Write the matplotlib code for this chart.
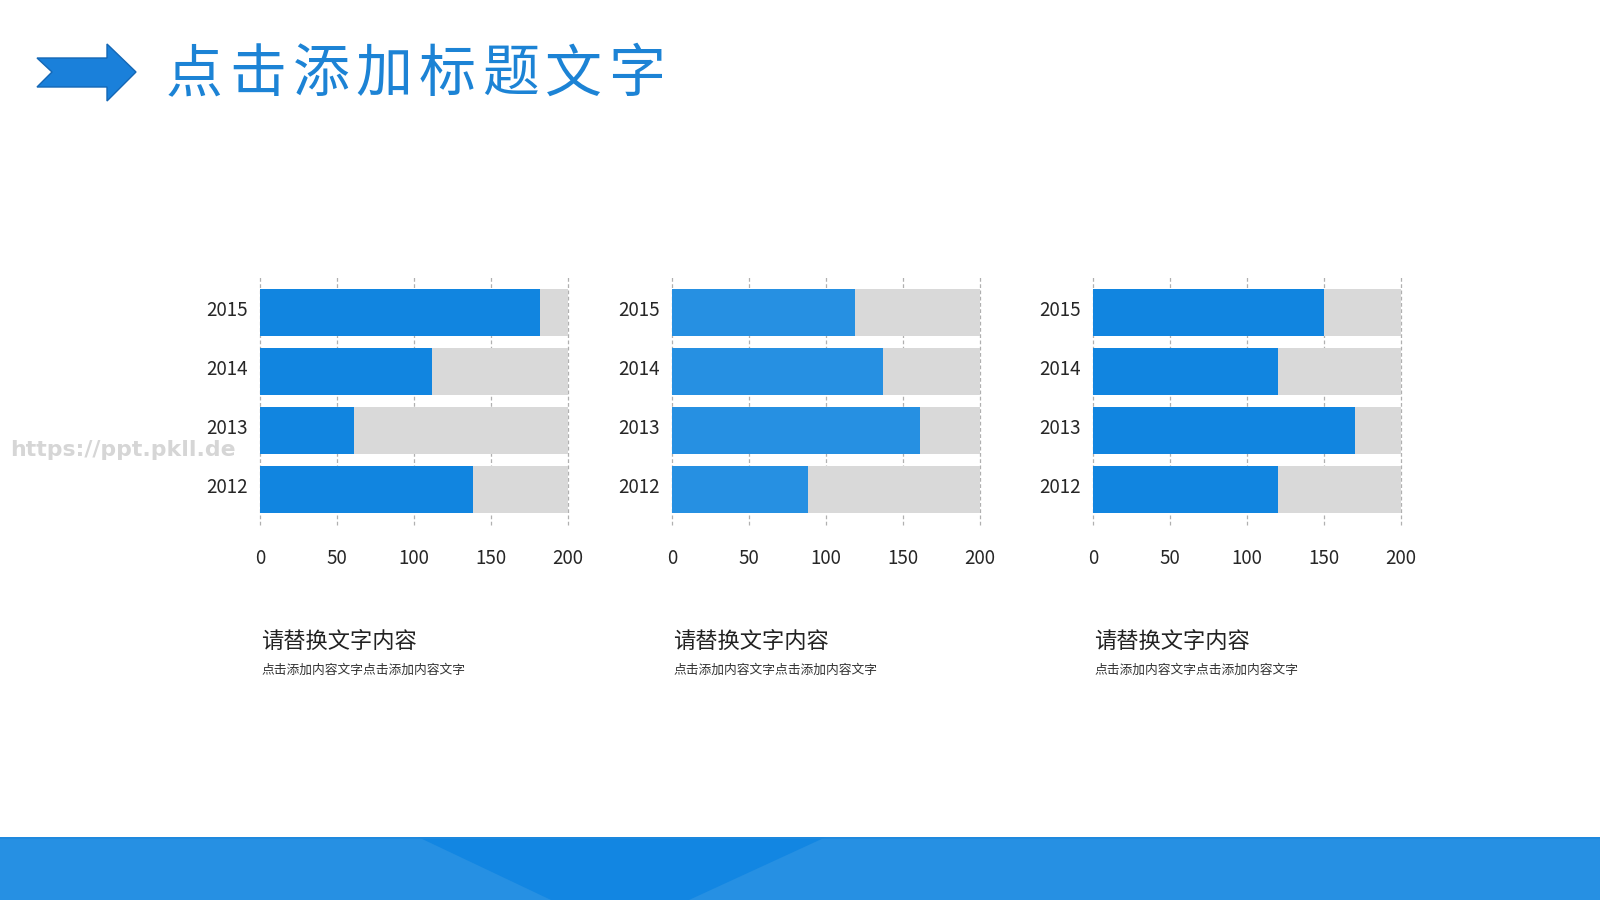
import matplotlib
matplotlib.use('Agg')
import matplotlib.pyplot as plt
import matplotlib.transforms as mtransforms
from matplotlib.patches import Polygon, Rectangle

plt.rcParams['font.family'] = ['Noto Sans CJK SC', 'DejaVu Sans']

years = ['2012', '2013', '2014', '2015']
chart1 = [138, 61, 112, 182]
chart2 = [88, 161, 137, 119]
chart3 = [120, 170, 120, 150]
max_val = 200
ticks = [0, 50, 100, 150, 200]

title = '点击添加标题文字'
caption_title = '请替换文字内容'
caption_text = '点击添加内容文字点击添加内容文字'
watermark = 'https://ppt.pkll.de'

W, H = 1600, 900
fig = plt.figure(figsize=(16, 9), dpi=100)
fig.patch.set_facecolor('white')

# background layer in pixel coords
bg = fig.add_axes([0, 0, 1, 1])
bg.set_xlim(0, W)
bg.set_ylim(H, 0)
bg.axis('off')

# arrow in the top left
arrow = [(37, 58), (107, 58), (107, 44), (136, 72), (107, 101), (107, 87), (37, 87), (52, 72)]
bg.add_patch(Polygon(arrow, closed=True, facecolor='#1A80DA', edgecolor='#1467B5', lw=1))

# title, with wide letter spacing
for i, ch in enumerate(title):
    bg.text(168 + 26.5 + i * 63.2, 75, ch, fontsize=41, color='#1C83D5',
            ha='center', va='center')

# bottom band
bg.add_patch(Rectangle((0, 837), W, 63, facecolor='#2690E3', edgecolor='none'))
bg.add_patch(Polygon([(418, 837), (826, 837), (689, 900), (551, 900)], closed=True,
                     facecolor='#1286E2', edgecolor='none'))
bg.plot([0, W], [837.5, 837.5], color='#1E88DD', lw=1.2)

# watermark
bg.text(10, 450, watermark, fontsize=15.8, color='#D6D6D6', fontweight='bold',
        family='DejaVu Sans', ha='left', va='center')

lefts = [260, 672, 1093]
blues = ['#1185E0', '#2690E2', '#1185E0']
series = [chart1, chart2, chart3]
top, bottom, width = 276, 525, 308

up = mtransforms.ScaledTranslation(0, 3.5 / 72, fig.dpi_scale_trans)
down = mtransforms.ScaledTranslation(0, -0.7 / 72, fig.dpi_scale_trans)

for left, vals, col in zip(lefts, series, blues):
    ax = fig.add_axes([left / W, (H - bottom) / H, width / W, (bottom - top) / H])
    pos = range(len(years))
    ax.barh(pos, [max_val] * len(years), height=0.8, color='#D9D9D9', zorder=2)
    ax.barh(pos, vals, height=0.8, color=col, zorder=3)
    ax.set_xlim(0, max_val)
    ax.set_ylim(-0.6, 3.62)
    ax.set_xticks(ticks)
    ax.set_yticks(list(pos))
    ax.set_yticklabels(years)
    ax.tick_params(length=0, labelsize=13.5, colors='#262626')
    ax.tick_params(axis='x', pad=16)
    ax.tick_params(axis='y', pad=9)
    ax.grid(axis='x', color='#B0B0B0', linestyle=(0, (3, 2)), lw=0.9, zorder=0)
    for gl in ax.get_xgridlines():
        gl.set_clip_on(False)
    ax.set_axisbelow(True)
    for s in ax.spines.values():
        s.set_visible(False)
    ax.patch.set_alpha(0)
    for lab in ax.get_yticklabels():
        lab.set_transform(lab.get_transform() + up)
    for lab in ax.get_xticklabels():
        lab.set_transform(lab.get_transform() + down)

    bg.text(left + 1, 641, caption_title, fontsize=16, color='#222222',
            ha='left', va='center')
    bg.text(left + 1, 670, caption_text, fontsize=9.2, color='#333333',
            ha='left', va='center')

fig.savefig('out.png', dpi=100, facecolor='white')
